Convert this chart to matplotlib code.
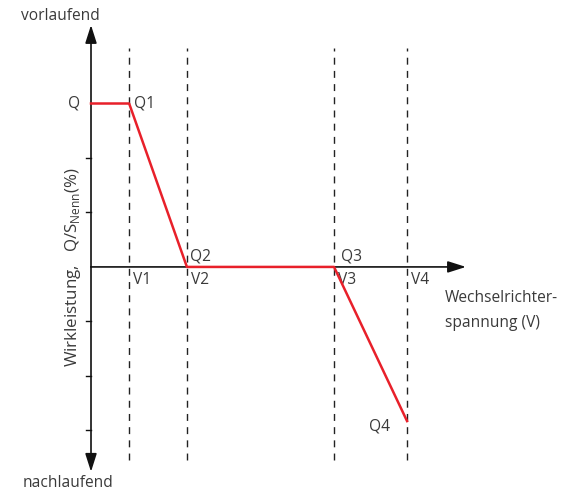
import numpy as np
import matplotlib.pyplot as plt

plt.rcParams['font.family'] = ['Open Sans', 'DejaVu Sans']

# voltage thresholds V1..V4 (relative units along the voltage axis)
v_names = ['V1', 'V2', 'V3', 'V4']
v_pos = [0.70, 1.76, 4.46, 5.80]

# characteristic curve Q(V)
q_names = ['Q1', 'Q2', 'Q3', 'Q4']
curve_x = [0.0, 0.70, 1.76, 4.46, 5.80]
curve_y = [3.0, 3.0, 0.0, 0.0, -2.83]

y_ticks = [-3, -2, -1, 1, 2]

text_col = '#3a3a3a'
fs = 11.2

fig = plt.figure(figsize=(5.7, 4.93), dpi=100)
ax = fig.add_axes([0, 0, 1, 1])
ax.set_xlim(-1.67, 8.79)
ax.set_ylim(-4.15, 4.9)
ax.axis('off')

# dashed threshold lines
for v in v_pos:
    ax.plot([v, v], [-3.54, 4.02], color='#222222', lw=1.0, ls=(0, (5, 4.5)))

arrow = dict(arrowstyle='-|>,head_length=1.1,head_width=0.35', color='#111111', lw=1.2, shrinkA=0, shrinkB=0)
# y axis with arrows at both ends
ax.annotate('', xy=(0, 4.44), xytext=(0, 0), arrowprops=arrow)
ax.annotate('', xy=(0, -3.76), xytext=(0, 0), arrowprops=arrow)
# x axis
ax.annotate('', xy=(6.88, 0), xytext=(0, 0), arrowprops=arrow)

# small ticks on y axis
for t in y_ticks:
    ax.plot([-0.09, 0], [t, t], color='#111111', lw=1.0)

# curve
ax.plot(curve_x, curve_y, color='#e8202a', lw=1.8, zorder=5)

# point labels
ax.text(-0.2, 3.0, 'Q', color=text_col, fontsize=fs, ha='right', va='center')
ax.text(curve_x[1] + 0.08, curve_y[1], q_names[0], color=text_col, fontsize=fs, ha='left', va='center')
ax.text(curve_x[2] + 0.05, curve_y[2] + 0.05, q_names[1], color=text_col, fontsize=fs, ha='left', va='bottom')
ax.text(curve_x[3] + 0.12, curve_y[3] + 0.05, q_names[2], color=text_col, fontsize=fs, ha='left', va='bottom')
ax.text(curve_x[4] - 0.32, curve_y[4] - 0.1, q_names[3], color=text_col, fontsize=fs, ha='right', va='center')

for name, v in zip(v_names, v_pos):
    ax.text(v + 0.07, -0.1, name, color=text_col, fontsize=fs, ha='left', va='top')

ax.text(6.5, -0.42, 'Wechselrichter-\nspannung (V)', color=text_col, fontsize=fs,
        ha='left', va='top', linespacing=1.75)
ax.text(-0.57, 4.6, 'vorlaufend', color=text_col, fontsize=fs, ha='center', va='center')
ax.text(-0.42, -3.97, 'nachlaufend', color=text_col, fontsize=fs, ha='center', va='center')
ax.text(-0.33, 0.0, r'Wirkleistung,   Q/S$_{\mathregular{Nenn}}$(%)', color=text_col, fontsize=12.2,
        ha='center', va='center', rotation=90)

fig.savefig('out.png', dpi=100)
